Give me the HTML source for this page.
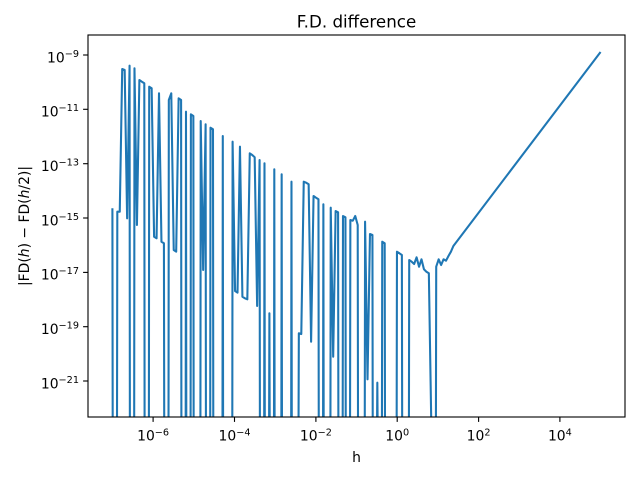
<!DOCTYPE html>
<html>
<head>
<meta charset="utf-8">
<style>
  html, body { margin: 0; padding: 0; background: #ffffff; }
  body { width: 640px; height: 480px; overflow: hidden; }
  svg { display: block; }
  text { font-family: "DejaVu Sans", "Liberation Sans", sans-serif; fill: #000; }
</style>
</head>
<body>
<svg width="640" height="480" viewBox="0 0 640 480" xmlns="http://www.w3.org/2000/svg">
  <defs>
    <clipPath id="ax">
      <rect x="88" y="35" width="537" height="382"/>
    </clipPath>
  </defs>
  <rect x="0" y="0" width="640" height="480" fill="#ffffff"/>

  <!-- data line -->
  <polyline clip-path="url(#ax)" fill="none" stroke="#1f77b4" stroke-width="2.08" stroke-linejoin="round" stroke-linecap="butt"
    points="
112.40,208.3 112.70,425 117.01,425 117.31,211.7 119.76,211.7 122.21,69 124.67,70 127.12,218.3 129.57,65.7 129.87,425 134.18,425 134.48,68.3
136.93,225 139.38,80 141.84,81.7 144.29,83.3 144.59,425 148.90,425 149.20,86.7 151.65,88.3 154.10,236.7 156.56,238.3 159.01,93.3
161.46,241.7 163.92,243.3 164.22,425 168.52,425 168.82,100 171.27,93.3 173.73,250 176.18,251.7 178.63,98.3 181.09,100 181.39,425 185.69,425
185.99,111.7 186.29,425 190.60,425 190.90,114.3 193.35,116 193.65,425 200.41,425 200.71,121 203.16,270 205.62,124.3 205.92,425 210.22,425
210.52,127.7 212.98,129.3 213.28,425 222.49,425 222.79,136 223.09,425 232.30,425 232.60,141.7
235.06,291 237.51,292.7 239.96,146.7 242.41,296.7 244.87,298.3 247.32,299.3 249.77,153.3 252.23,155 254.68,157.3 257.13,306
259.59,160 259.89,425 264.19,425 264.49,163.3 264.79,425 269.10,425 269.40,313.3 269.70,425 274.00,425 274.30,169.3 274.60,425 281.36,425 281.66,174.3
281.96,425 291.18,425 291.48,181.7 291.78,425 298.54,425 298.84,333.3 301.29,334 303.74,181.7 306.19,182.7
308.65,184.3 311.10,341.7 313.55,196 316.01,197.7 318.46,199.3 318.76,425 323.07,425 323.37,204.3 323.67,425 330.43,425 330.73,207.7
333.18,356.7 335.63,211 338.08,212.3 338.38,425 342.69,425 342.99,216 345.44,217.3 345.74,425 350.05,425 350.35,220 352.80,220.7 355.26,216
357.71,225 358.01,425 364.77,425 365.07,221.7 367.52,379.3 369.98,234 372.43,235 372.73,425 377.03,425 377.33,382.7 377.63,425 381.94,425
382.24,241.7 384.69,243.3 384.99,425 396.66,425 396.96,251.7 399.41,253.3 401.87,255 402.17,425 408.92,425
409.22,260 411.68,261.7 414.13,264 416.58,257.3 419.04,266.7 421.49,259.3 423.94,269.3 426.40,271.7 428.85,273.3
431.30,425 435.91,425 436.21,266.7 438.66,259.3 441.11,265 443.57,259.3 446.02,260.7 448.47,256 450.93,251.7 453.38,246
600.57,52"/>

  <!-- axes frame -->
  <rect x="88" y="35" width="537" height="382" fill="none" stroke="#000" stroke-width="1.11"/>

  <!-- x ticks -->
  <g stroke="#000" stroke-width="1.11">
    <line x1="153.1" y1="417" x2="153.1" y2="421.9"/>
    <line x1="234.5" y1="417" x2="234.5" y2="421.9"/>
    <line x1="315.9" y1="417" x2="315.9" y2="421.9"/>
    <line x1="397.2" y1="417" x2="397.2" y2="421.9"/>
    <line x1="478.6" y1="417" x2="478.6" y2="421.9"/>
    <line x1="559.9" y1="417" x2="559.9" y2="421.9"/>
  </g>
  <g font-size="13.9" text-anchor="middle">
    <text x="153.1" y="440.7">10<tspan dy="-5" font-size="9.7">−6</tspan></text>
    <text x="234.5" y="440.7">10<tspan dy="-5" font-size="9.7">−4</tspan></text>
    <text x="315.9" y="440.7">10<tspan dy="-5" font-size="9.7">−2</tspan></text>
    <text x="397.2" y="440.7">10<tspan dy="-5" font-size="9.7">0</tspan></text>
    <text x="478.6" y="440.7">10<tspan dy="-5" font-size="9.7">2</tspan></text>
    <text x="559.9" y="440.7">10<tspan dy="-5" font-size="9.7">4</tspan></text>
  </g>

  <!-- y ticks -->
  <g stroke="#000" stroke-width="1.11">
    <line x1="83.1" y1="55" x2="88" y2="55"/>
    <line x1="83.1" y1="109.3" x2="88" y2="109.3"/>
    <line x1="83.1" y1="163.7" x2="88" y2="163.7"/>
    <line x1="83.1" y1="218" x2="88" y2="218"/>
    <line x1="83.1" y1="272.4" x2="88" y2="272.4"/>
    <line x1="83.1" y1="326.7" x2="88" y2="326.7"/>
    <line x1="83.1" y1="381" x2="88" y2="381"/>
  </g>
  <g font-size="13.9" text-anchor="end">
    <text x="79" y="62.3">10<tspan dy="-5.5" font-size="9.7">−9</tspan></text>
    <text x="79" y="116.6">10<tspan dy="-5.5" font-size="9.7">−11</tspan></text>
    <text x="79" y="171">10<tspan dy="-5.5" font-size="9.7">−13</tspan></text>
    <text x="79" y="225.3">10<tspan dy="-5.5" font-size="9.7">−15</tspan></text>
    <text x="79" y="279.7">10<tspan dy="-5.5" font-size="9.7">−17</tspan></text>
    <text x="79" y="334">10<tspan dy="-5.5" font-size="9.7">−19</tspan></text>
    <text x="79" y="388.3">10<tspan dy="-5.5" font-size="9.7">−21</tspan></text>
  </g>

  <!-- title -->
  <text x="356.5" y="27.5" font-size="16.7" text-anchor="middle">F.D. difference</text>

  <!-- x label -->
  <text x="356.5" y="462" font-size="13.9" text-anchor="middle">h</text>

  <!-- y label -->
  <text transform="translate(29,226) rotate(-90)" font-size="13.9" text-anchor="middle">|FD(<tspan font-style="italic">h</tspan>) − FD(<tspan font-style="italic">h</tspan>/2)|</text>
</svg>
</body>
</html>
